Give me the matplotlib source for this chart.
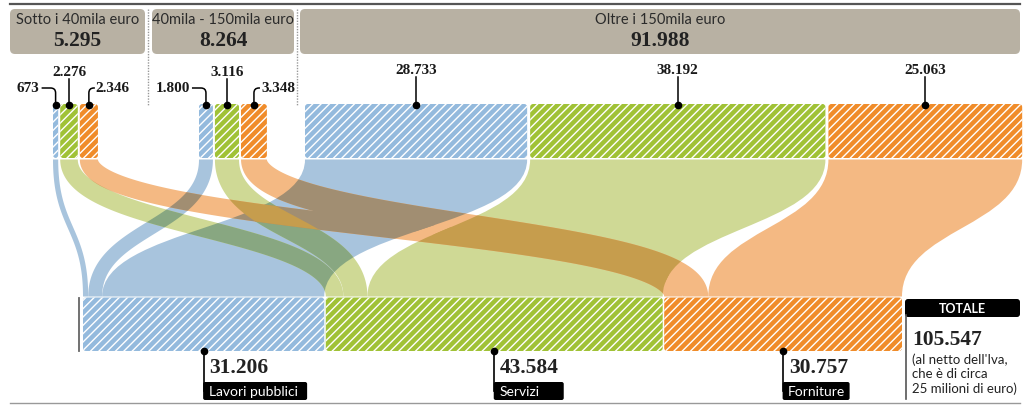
import matplotlib
matplotlib.use("Agg")
import numpy as np
import matplotlib.pyplot as plt
from matplotlib.patches import FancyBboxPatch, PathPatch
from matplotlib.path import Path
from matplotlib.colors import to_rgb

# ---------------------------------------------------------------------------
# data (appalti, valori come riportati nel grafico)
# ---------------------------------------------------------------------------
fasce = ["Sotto i 40mila euro", "40mila - 150mila euro", "Oltre i 150mila euro"]
settori = ["Lavori pubblici", "Servizi", "Forniture"]
lavori = [673, 1800, 28733]
servizi = [2276, 3116, 38192]
forniture = [2346, 3348, 25063]
nota_totale = "(al netto dell'Iva,\nche è di circa\n25 milioni di euro)"

valori = [lavori, servizi, forniture]
tot_fasce = [sum(v[g] for v in valori) for g in range(3)]
tot_settori = [sum(v) for v in valori]
totale = sum(tot_settori)

bar_col = ["#94badd", "#a0c236", "#f08c2a"]
flow_col = ["#a8c4dd", "#cfd995", "#f4b983"]
box_col = "#b8b1a3"


def fmt(v):
    return f"{v:,}".replace(",", ".")


plt.rcParams["hatch.color"] = "white"
plt.rcParams["hatch.linewidth"] = 1.0
SANS = ["Lato", "DejaVu Sans"]
SERIF = ["Liberation Serif", "DejaVu Serif"]

# layout: x axis in value units, y axis in pixels (top -> bottom)
W, H = 1031, 406
U = totale / 816.0          # value units per pixel


def px(p):
    return (p - 83) * U


fig = plt.figure(figsize=(W / 100, H / 100), dpi=100)
ax = fig.add_axes([0, 0, 1, 1])
ax.set_xlim(px(0), px(W))
ax.set_ylim(H, 0)
ax.axis("off")


def rbox(x, y, w, h, r, **kw):
    return FancyBboxPatch((x, y), w, h,
                          boxstyle=f"round,pad=0,rounding_size={r * U}",
                          mutation_aspect=1 / U, **kw)


TOP_Y0, TOP_Y1 = 105, 159      # top bars
BOT_Y0, BOT_Y1 = 298.5, 352    # bottom bars
FL_Y0, FL_Y1 = 160.5, 297.5    # flows

# top bars positions
group_start = [53, 199, 305]
group_gap = [2, 2, 3]
top_pos = [[None] * 3 for _ in range(3)]
for g in range(3):
    x = px(group_start[g])
    for s in range(3):
        v = valori[s][g]
        top_pos[s][g] = (x, x + v)
        x += v + group_gap[g] * U

# bottom bars positions
bot_pos = [[None] * 3 for _ in range(3)]
bot_bar = []
x = 0
for s in range(3):
    x_start = x
    for g in range(3):
        v = valori[s][g]
        bot_pos[s][g] = (x, x + v)
        x += v
    bot_bar.append((x_start, x))
    x += 1.5 * U


# ---------------------------------------------------------------------------
# flows
# ---------------------------------------------------------------------------
def ribbon_edges(a, b):
    # wide flows: both edges are vertical S curves
    ym = (FL_Y0 + FL_Y1) / 2
    verts = [(a[0], FL_Y0), (a[0], ym), (b[0], ym), (b[0], FL_Y1),
             (b[1], FL_Y1), (b[1], ym), (a[1], ym), (a[1], FL_Y0),
             (a[0], FL_Y0)]
    codes = [Path.MOVETO, Path.CURVE4, Path.CURVE4, Path.CURVE4,
             Path.LINETO, Path.CURVE4, Path.CURVE4, Path.CURVE4,
             Path.CLOSEPOLY]
    return Path(verts, codes)


def ribbon_band(a, b, n=160):
    # narrow flows: band of constant width along the S centre line
    w = (a[1] - a[0]) / U
    xa, xb = (a[0] + a[1]) / 2 / U, (b[0] + b[1]) / 2 / U
    ym = (FL_Y0 + FL_Y1) / 2
    t = np.linspace(0, 1, n)[:, None]
    P = np.array([[xa, FL_Y0], [xa, ym], [xb, ym], [xb, FL_Y1]])
    c = ((1 - t) ** 3 * P[0] + 3 * (1 - t) ** 2 * t * P[1]
         + 3 * (1 - t) * t ** 2 * P[2] + t ** 3 * P[3])
    d = (3 * (1 - t) ** 2 * (P[1] - P[0]) + 6 * (1 - t) * t * (P[2] - P[1])
         + 3 * t ** 2 * (P[3] - P[2]))
    d /= np.linalg.norm(d, axis=1)[:, None]
    nrm = np.column_stack([-d[:, 1], d[:, 0]])
    left = c + nrm * w / 2
    right = c - nrm * w / 2
    pts = np.vstack([left, right[::-1]])
    pts[:, 0] *= U
    return Path(np.vstack([pts, pts[:1]]), closed=True)


flows = []
for s in range(3):
    for g in range(3):
        if g < 2:
            path = ribbon_band(top_pos[s][g], bot_pos[s][g])
        else:
            path = ribbon_edges(top_pos[s][g], bot_pos[s][g])
        p = PathPatch(path, facecolor=flow_col[s], edgecolor="none", zorder=1)
        ax.add_patch(p)
        flows.append((s, p))

# overlaps drawn as multiply blend (pairwise)
for i, (si, pi) in enumerate(flows):
    for j, (sj, pj) in enumerate(flows):
        if j <= i or si == sj:
            continue
        c = tuple(a * b for a, b in zip(to_rgb(flow_col[si]), to_rgb(flow_col[sj])))
        q = PathPatch(pj.get_path(), facecolor=c, edgecolor="none", zorder=2)
        ax.add_patch(q)
        q.set_clip_path(pi)

# ---------------------------------------------------------------------------
# bars
# ---------------------------------------------------------------------------
for s in range(3):
    for g in range(3):
        a, b = top_pos[s][g]
        ax.add_patch(rbox(a, TOP_Y0, b - a, TOP_Y1 - TOP_Y0, 3,
                          facecolor=bar_col[s], edgecolor="white", lw=0,
                          hatch="////", zorder=3))
    a, b = bot_bar[s]
    ax.add_patch(rbox(a, BOT_Y0, b - a, BOT_Y1 - BOT_Y0, 3,
                      facecolor=bar_col[s], edgecolor="white", lw=0,
                      hatch="////", zorder=3))

# ---------------------------------------------------------------------------
# frame lines, headers
# ---------------------------------------------------------------------------
ax.plot([px(10), px(1020)], [5, 5], color="#555555", lw=1.6, zorder=4)
ax.plot([px(10), px(1020)], [404, 404], color="#999999", lw=1.0, zorder=4)
for xs in (148, 297):
    ax.plot([px(xs), px(xs)], [10, 107], color="#999999", lw=1.0,
            ls=(0, (1, 1)), zorder=4)
ax.plot([px(79), px(79)], [299, 352], color="#666666", lw=1.3, zorder=4)

header_box = [(10, 145), (152, 294), (300, 1020)]
for g in range(3):
    l, r = header_box[g]
    ax.add_patch(rbox(px(l), 10, px(r) - px(l), 45, 5,
                      facecolor=box_col, edgecolor="none", zorder=3))
    xc = px((l + r) / 2)
    ax.text(xc, 19.5, fasce[g], ha="center", va="center", fontsize=10.5,
            family=SANS, color="#2b2b2b", zorder=5)
    ax.text(xc, 40.5, fmt(tot_fasce[g]), ha="center", va="center",
            fontsize=15.5, fontweight="bold", family=SERIF, color="#222222",
            zorder=5)

# ---------------------------------------------------------------------------
# top labels with leaders
# ---------------------------------------------------------------------------
LAB_Y = 89
dot_kw = dict(marker="o", ms=4.5, color="black", zorder=6)
num_kw = dict(fontsize=11, fontweight="bold", family=SERIF, color="#1a1a1a",
              zorder=6)


def elbow(xc, x_end, y_lab, y_dot, r=5):
    side = 1 if x_end > xc else -1
    verts = [(x_end, y_lab), (xc + side * r * U, y_lab), (xc, y_lab),
             (xc, y_lab + r), (xc, y_dot)]
    codes = [Path.MOVETO, Path.LINETO, Path.CURVE3, Path.CURVE3, Path.LINETO]
    ax.add_patch(PathPatch(Path(verts, codes), facecolor="none",
                           edgecolor="black", lw=1.1, zorder=5))


for g in range(3):
    for s in range(3):
        a, b = top_pos[s][g]
        xc = (a + b) / 2
        v = fmt(valori[s][g])
        ax.plot([xc], [TOP_Y0 + 1], **dot_kw)
        if g < 2 and s == 0:
            elbow(xc, xc - 14 * U, LAB_Y, TOP_Y0 + 1)
            ax.text(xc - 16 * U, LAB_Y, v, ha="right", va="center", **num_kw)
        elif g < 2 and s == 2:
            elbow(xc, xc + 6 * U, LAB_Y, TOP_Y0 + 1)
            ax.text(xc + 7 * U, LAB_Y, v, ha="left", va="center", **num_kw)
        else:
            ylab = 72 if g < 2 else 70
            ax.plot([xc, xc], [ylab + 8, TOP_Y0 + 1], color="black", lw=1.1,
                    zorder=5)
            ax.text(xc, ylab, v, ha="center", va="center", **num_kw)

# ---------------------------------------------------------------------------
# bottom labels
# ---------------------------------------------------------------------------
box_w = [104, 70, 67]
for s in range(3):
    a, b = bot_bar[s]
    xc = (a + b) / 2
    ax.plot([xc], [BOT_Y1], **dot_kw)
    ax.plot([xc, xc], [BOT_Y1, 392], color="black", lw=1.2, zorder=5)
    ax.text(xc + 6 * U, 368, fmt(tot_settori[s]), ha="left", va="center",
            fontsize=15.5, fontweight="bold", family=SERIF, color="#222222",
            zorder=6)
    ax.add_patch(rbox(xc - 0.5 * U, 383, box_w[s] * U, 18, 2,
                      facecolor="black", edgecolor="none", zorder=5))
    ax.text(xc + 5 * U, 392, settori[s], ha="left", va="center",
            fontsize=10, family=SANS, color="white", zorder=6)

# totale
ax.add_patch(rbox(px(905), 300, px(1020) - px(905), 18, 3,
                  facecolor="black", edgecolor="none", zorder=5))
ax.text(px(962.5), 309.5, "TOTALE", ha="center", va="center", fontsize=9,
        fontweight="bold", family=SANS, color="white", zorder=6)
ax.plot([px(906.5), px(906.5)], [316, 400], color="#555555", lw=1.2, zorder=5)
ax.text(px(912), 340, fmt(totale), ha="left", va="center", fontsize=15.5,
        fontweight="bold", family=SERIF, color="#222222", zorder=6)
ax.text(px(912), 374, nota_totale, ha="left", va="center", fontsize=9.5,
        family=SANS, color="#222222", linespacing=1.2, zorder=6)

fig.savefig("out.png", dpi=100)
